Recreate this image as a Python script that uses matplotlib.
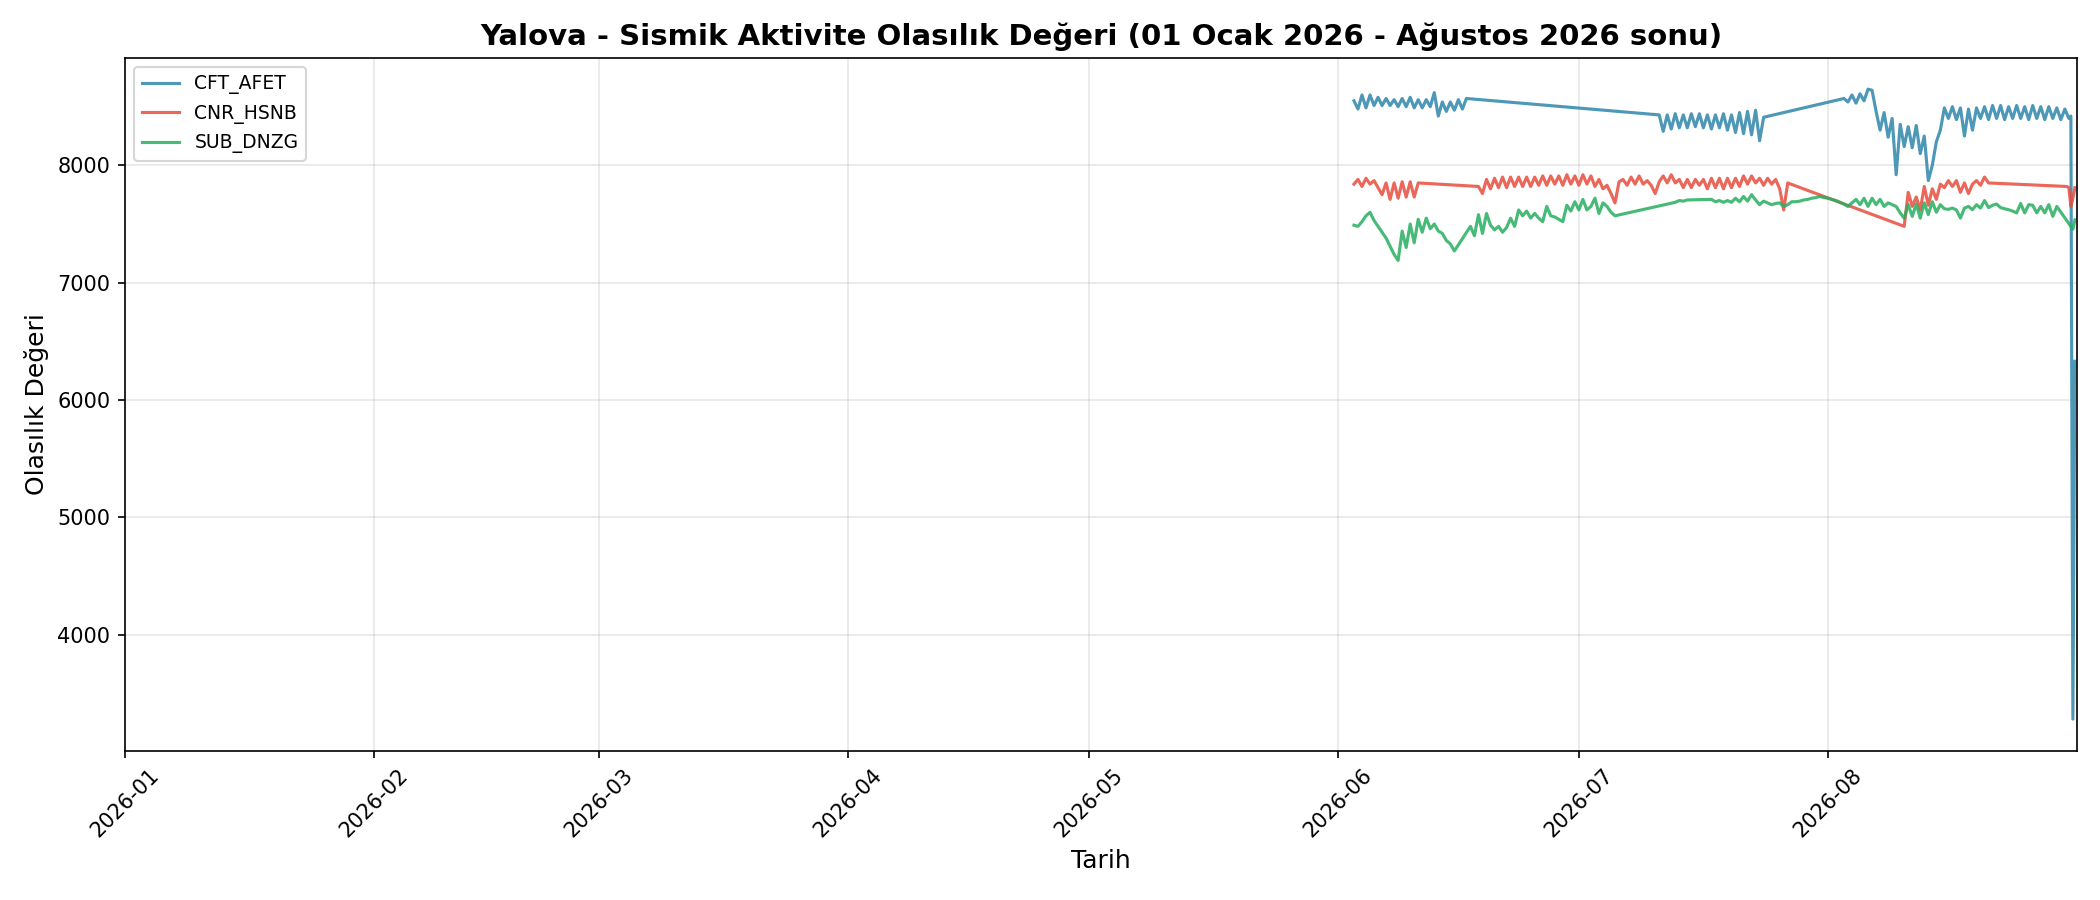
import pandas as pd
import matplotlib.pyplot as plt
import matplotlib.dates as mdates

# --- data (12h / 6h samples, gaps between segments) ---
cft_starts = ['2026-06-03 00:00', '2026-07-11 00:00', '2026-08-03 00:00', '2026-08-31 06:00']
cft_steps = ['12h', '12h', '12h', '6h']
cft_seg1 = [8550, 8480, 8600, 8490, 8600, 8510, 8580, 8510, 8570, 8510,
            8560, 8500, 8570, 8500, 8580, 8490, 8560, 8490, 8560, 8500,
            8620, 8420, 8540, 8460, 8540, 8470, 8560, 8480, 8570]
cft_seg2 = [8430, 8290, 8430, 8310, 8440, 8320, 8430, 8320, 8440, 8330,
            8440, 8320, 8430, 8310, 8430, 8320, 8440, 8300, 8430, 8280,
            8450, 8270, 8460, 8260, 8470, 8210, 8410]
cft_seg3 = [8570, 8540, 8600, 8530, 8610, 8550, 8650, 8640, 8460, 8300,
            8450, 8240, 8400, 7920, 8350, 8160, 8330, 8150, 8340, 8100,
            8250, 7870, 8000, 8200, 8300, 8490, 8400, 8500, 8390, 8490,
            8250, 8480, 8300, 8490, 8400, 8500, 8390, 8510, 8400, 8510,
            8390, 8500, 8400, 8510, 8400, 8500, 8390, 8510, 8400, 8500,
            8390, 8500, 8400, 8490, 8390, 8480, 8400]
cft_seg4 = [8420, 3280, 6330]

cnr_starts = ['2026-06-03 00:00', '2026-06-18 12:00', '2026-08-10 12:00', '2026-08-30 18:00']
cnr_steps = ['12h', '12h', '12h', '6h']
cnr_seg1 = [7840, 7880, 7820, 7890, 7840, 7870, 7810, 7750, 7850, 7710,
            7850, 7720, 7860, 7730, 7860, 7730, 7850]
cnr_seg2 = [7820, 7760, 7880, 7800, 7890, 7810, 7900, 7810, 7900, 7820,
            7900, 7820, 7900, 7820, 7900, 7830, 7910, 7830, 7910, 7840,
            7910, 7830, 7920, 7840, 7910, 7830, 7920, 7840, 7910, 7820,
            7880, 7800, 7830, 7760, 7680, 7860, 7880, 7830, 7900, 7840,
            7910, 7840, 7870, 7830, 7760, 7860, 7910, 7850, 7920, 7850,
            7880, 7810, 7880, 7810, 7880, 7830, 7880, 7800, 7890, 7810,
            7890, 7800, 7890, 7810, 7890, 7820, 7910, 7840, 7910, 7850,
            7890, 7830, 7890, 7840, 7880, 7800, 7620, 7850]
cnr_seg3 = [7480, 7770, 7650, 7730, 7620, 7820, 7660, 7800, 7710, 7840,
            7810, 7870, 7820, 7870, 7770, 7850, 7760, 7840, 7870, 7830,
            7900, 7850]
cnr_seg4 = [7820, 7810, 7650, 7720, 7810]

sub_starts = ['2026-06-03 00:00', '2026-06-17 12:00', '2026-07-13 00:00',
              '2026-07-17 12:00', '2026-08-31 12:00']
sub_steps = ['12h', '12h', '12h', '12h', '6h']
sub_seg1 = [7490, 7480, 7520, 7570, 7600, 7530, 7480, 7430, 7380, 7310,
            7240, 7190, 7440, 7300, 7500, 7340, 7540, 7430, 7550, 7460,
            7500, 7440, 7420, 7360, 7330, 7270]
sub_seg2 = [7480, 7400, 7580, 7420, 7590, 7490, 7450, 7480, 7430, 7470,
            7550, 7480, 7620, 7570, 7610, 7550, 7590, 7550, 7520, 7650,
            7570, 7560, 7540, 7520, 7660, 7610, 7690, 7620, 7710, 7620,
            7650, 7720, 7590, 7680, 7650, 7600, 7570]
sub_seg3 = [7685, 7700, 7695, 7705]
sub_seg4 = [7710, 7690, 7700, 7685, 7700, 7685, 7720, 7690, 7735, 7695,
            7750, 7705, 7665, 7695, 7680, 7665, 7675, 7680, 7650, 7665,
            7690, 7690, 7695, 7705, 7710, 7720, 7725, 7735, 7725, 7720,
            7710, 7700, 7685, 7670, 7650, 7680, 7710, 7665, 7720, 7650,
            7720, 7665, 7710, 7650, 7680, 7665, 7650, 7595, 7550, 7665,
            7565, 7670, 7550, 7680, 7580, 7690, 7600, 7665, 7630, 7625,
            7636, 7620, 7550, 7636, 7650, 7622, 7665, 7636, 7700, 7640,
            7660, 7670, 7640, 7630, 7622, 7610, 7595, 7675, 7595, 7665,
            7660, 7595, 7650, 7595, 7665, 7565, 7650]
sub_seg5 = [7455, 7535]

station_names = ['CFT_AFET', 'CNR_HSNB', 'SUB_DNZG']
colors = ['#2E86AB', '#E74C3C', '#27AE60']


def build(starts, steps, segs):
    times, vals = [], []
    for s, f, v in zip(starts, steps, segs):
        times.extend(pd.date_range(s, periods=len(v), freq=f))
        vals.extend(v)
    return pd.Series(vals, index=pd.DatetimeIndex(times))


series = [
    build(cft_starts, cft_steps, [cft_seg1, cft_seg2, cft_seg3, cft_seg4]),
    build(cnr_starts, cnr_steps, [cnr_seg1, cnr_seg2, cnr_seg3, cnr_seg4]),
    build(sub_starts, sub_steps, [sub_seg1, sub_seg2, sub_seg3, sub_seg4, sub_seg5]),
]

fig, ax = plt.subplots(figsize=(14, 6), dpi=150)

for name, s, c in zip(station_names, series, colors):
    ax.plot(s.index, s.values, color=c, linewidth=1.5, alpha=0.85, label=name)

ax.set_title('Yalova - Sismik Aktivite Olasılık Değeri (01 Ocak 2026 - Ağustos 2026 sonu)',
             fontsize=14, fontweight='bold')
ax.set_xlabel('Tarih', fontsize=12)
ax.set_ylabel('Olasılık Değeri', fontsize=12)
ax.grid(True, alpha=0.3)
ax.legend(loc='upper left', fontsize=9)

ax.set_xlim(pd.Timestamp('2026-01-01'), pd.Timestamp('2026-08-31 23:59:59'))
ax.xaxis.set_major_locator(mdates.MonthLocator())
ax.xaxis.set_major_formatter(mdates.DateFormatter('%Y-%m'))
plt.setp(ax.get_xticklabels(), rotation=45)

fig.subplots_adjust(left=0.0595, right=0.989, top=0.936, bottom=0.166)
fig.savefig('out.png', dpi=150)
